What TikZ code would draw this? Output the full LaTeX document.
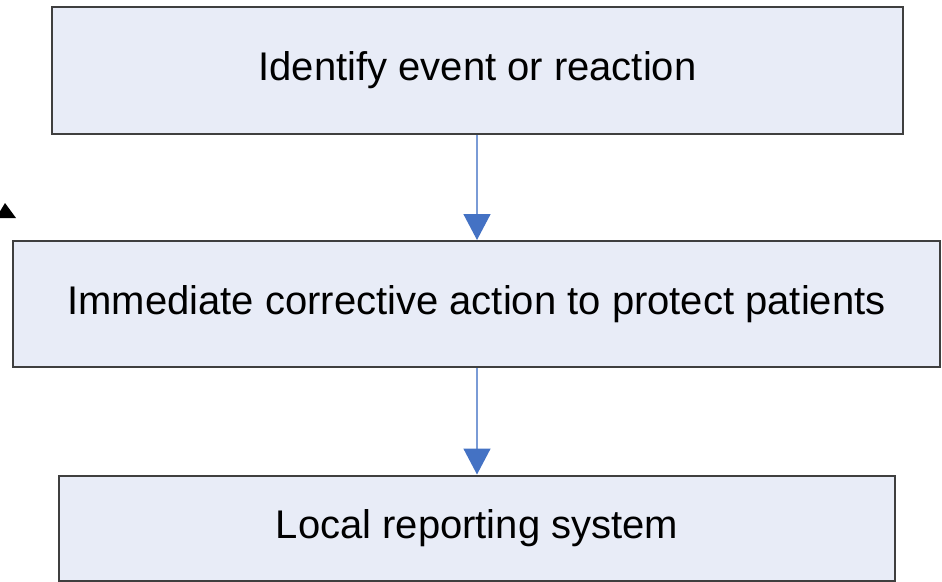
\documentclass[tikz,border=0pt]{standalone}
\usepackage{fontspec}
\setmainfont{Liberation Sans}
\usetikzlibrary{arrows.meta}
\definecolor{boxfill}{HTML}{E8ECF7}
\definecolor{boxline}{HTML}{3F3F3F}
\definecolor{arrline}{HTML}{7A9BD6}
\definecolor{arrhead}{HTML}{4472C4}
\tikzset{
  stagebox/.style={draw=boxline,line width=2pt,fill=boxfill,rectangle,inner sep=0pt,
    font=\fontsize{40}{44}\selectfont},
  flowarrow/.style={draw=arrline,line width=1.6pt,
    -{Triangle[length=26pt,width=27pt,color=arrhead]},shorten >=0pt}
}

\begin{document}
\begin{tikzpicture}[x=1pt,y=-1pt]
\useasboundingbox (0,0) rectangle (942,581);
\clip (0,0) rectangle (942,581);
\node[stagebox,minimum width=851pt,minimum height=127pt] (identify) at (477.5,70.5) {Identify event or reaction};
\node[stagebox,minimum width=927pt,minimum height=126pt] (action) at (476.5,304) {Immediate corrective action to protect patients};
\node[stagebox,minimum width=836pt,minimum height=105pt] (local) at (477,528) {Local reporting system};
\draw[flowarrow] (identify.south -| 477,0) -- (action.north -| 477,0);
\draw[flowarrow] (action.south -| 477,0) -- (local.north -| 477,0);
% stray arrow tip at the left
\fill[black] (-4,218) -- (5,203) -- (16,218) -- cycle;
\end{tikzpicture}
\end{document}
